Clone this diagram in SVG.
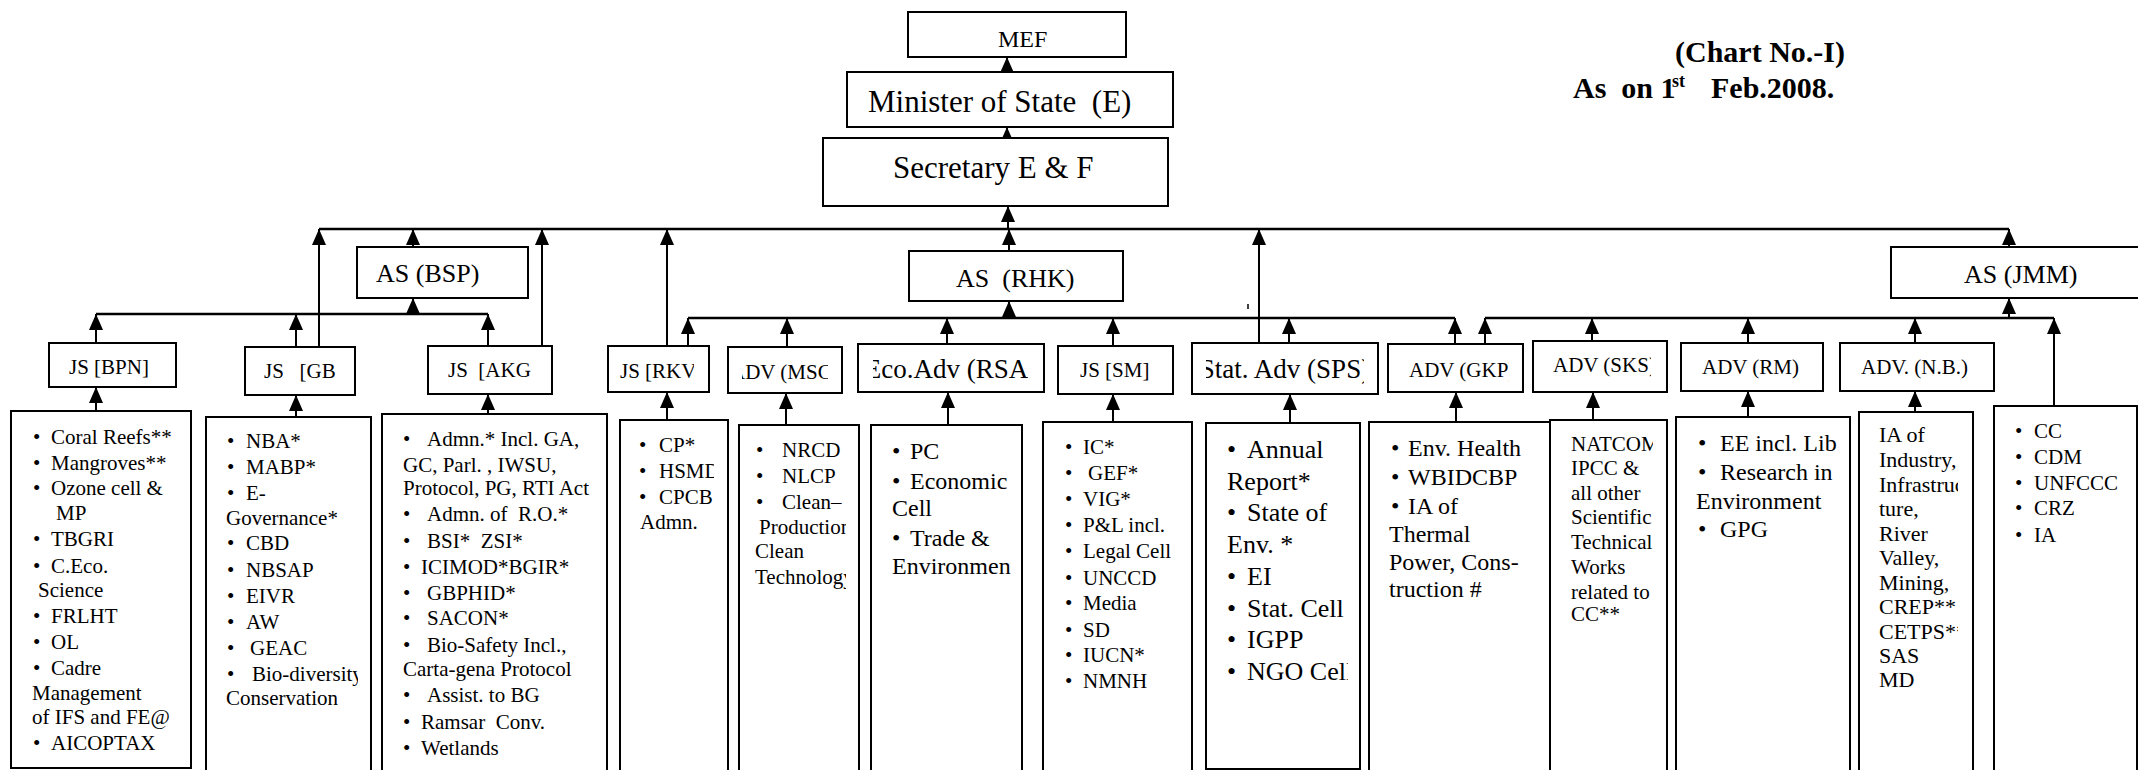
<svg xmlns="http://www.w3.org/2000/svg" width="2138" height="770" viewBox="0 0 2138 770">
<style>
.b{fill:#fff;stroke:#000;stroke-width:2}
.t{font-family:"Liberation Serif","Times New Roman",serif;fill:#000}
.hb{font-weight:bold;font-size:30px}
.f21{font-size:21px}.f22{font-size:22px}.f24{font-size:24px}.f26{font-size:26px}.f27{font-size:27px}.f31{font-size:31px}
.h{stroke:#000;stroke-width:2.5;fill:none}
.a{stroke:#000;stroke-width:2;fill:none;marker-end:url(#ah)}
</style>
<defs>
<marker id="ah" markerUnits="userSpaceOnUse" markerWidth="16" markerHeight="14" viewBox="0 0 16 14" refX="16" refY="7" orient="auto"><path d="M0,0L16,7L0,14z" fill="#000"/></marker>
<clipPath id="cRKVl"><rect x="600" y="340" width="94" height="60"/></clipPath>
<clipPath id="cMSCl"><rect x="742" y="340" width="86" height="60"/></clipPath>
<clipPath id="cRSAl"><rect x="873" y="340" width="155" height="60"/></clipPath>
<clipPath id="cSPSl"><rect x="1206" y="340" width="158" height="60"/></clipPath>
<clipPath id="cGKPl"><rect x="1395" y="340" width="114" height="60"/></clipPath>
<clipPath id="cSKSl"><rect x="1540" y="335" width="111" height="60"/></clipPath>
<clipPath id="cGB"><rect x="206" y="417" width="152" height="360"/></clipPath>
<clipPath id="cRKV"><rect x="620" y="420" width="94" height="360"/></clipPath>
<clipPath id="cMSC"><rect x="739" y="425" width="107" height="360"/></clipPath>
<clipPath id="cRSA"><rect x="871" y="425" width="140" height="360"/></clipPath>
<clipPath id="cSPS"><rect x="1206" y="423" width="142" height="360"/></clipPath>
<clipPath id="cSKS"><rect x="1550" y="420" width="103" height="360"/></clipPath>
<clipPath id="cNB"><rect x="1859" y="412" width="99" height="360"/></clipPath>
</defs>
<rect width="2138" height="770" fill="#fff"/>

<g id="title">
<text class="t hb" x="1845" y="62" text-anchor="end">(Chart No.-I)</text>
<text class="t hb" y="98"><tspan x="1573">As&#160; on 1</tspan><tspan x="1672" y="87" font-size="18">st</tspan><tspan x="1711" y="98">Feb.2008.</tspan></text>
</g>

<g id="connectors">
<path class="h" d="M319,229H2009M96,314H488M688,318H1455M1485,318H2054"/>
<path class="a" d="M1007,72V57"/>
<path class="a" d="M1007,138V127"/>
<path class="a" d="M1008,229V206"/>
<path class="a" d="M1009,251V229"/>
<path class="a" d="M319,347V229"/>
<path class="a" d="M413,247V229"/>
<path class="a" d="M542,346V229"/>
<path class="a" d="M667,346V229"/>
<path class="a" d="M1259,343V229"/>
<path class="a" d="M2009,247V229"/>
<path class="a" d="M413,314V298"/>
<path class="a" d="M96,343V314"/>
<path class="a" d="M296,347V314"/>
<path class="a" d="M488,346V314"/>
<path class="a" d="M1009,318V301"/>
<path class="a" d="M688,346V318"/>
<path class="a" d="M787,347V318"/>
<path class="a" d="M947,344V318"/>
<path class="a" d="M1113,346V318"/>
<path class="a" d="M1289,343V318"/>
<path class="a" d="M1455,344V318"/>
<path class="a" d="M2009,318V298"/>
<path class="a" d="M1485,344V318"/>
<path class="a" d="M1592,341V318"/>
<path class="a" d="M1748,343V318"/>
<path class="a" d="M1915,343V318"/>
<path class="a" d="M2054,406V318"/>
<path class="a" d="M96,411V387"/>
<path class="a" d="M296,417V395"/>
<path class="a" d="M488,414V394"/>
<path class="a" d="M667,420V392"/>
<path class="a" d="M786,425V393"/>
<path class="a" d="M948,425V392"/>
<path class="a" d="M1113,422V394"/>
<path class="a" d="M1290,423V394"/>
<path class="a" d="M1456,422V392"/>
<path class="a" d="M1593,420V392"/>
<path class="a" d="M1748,417V391"/>
<path class="a" d="M1915,412V391"/>
<path d="M1248,304V309" stroke="#000" stroke-width="1.5"/>
</g>

<g id="n-mef"><rect class="b" x="908" y="12" width="218" height="45"/><text class="t f24" x="998" y="47">MEF</text></g>
<g id="n-minister"><rect class="b" x="847" y="72" width="326" height="55"/><text class="t f31" x="868" y="112">Minister of State&#160; (E)</text></g>
<g id="n-secretary"><rect class="b" x="823" y="138" width="345" height="68"/><text class="t f31" x="893" y="178">Secretary E &amp; F</text></g>

<g id="n-as-bsp"><rect class="b" x="357" y="247" width="171" height="51"/><text class="t f26" x="376" y="282">AS (BSP)</text></g>
<g id="n-as-rhk"><rect class="b" x="909" y="251" width="214" height="50"/><text class="t f26" x="956" y="287">AS&#160; (RHK)</text></g>
<g id="n-as-jmm"><rect class="b" x="1891" y="247" width="260" height="51"/><text class="t f26" x="1964" y="283">AS (JMM)</text></g>

<g id="n-js-bpn"><rect class="b" x="49" y="343" width="127" height="44"/><text class="t f21" x="69" y="374">JS [BPN]</text></g>
<g id="n-js-gb"><rect class="b" x="245" y="347" width="110" height="48"/><text class="t f21" x="264" y="378">JS&#160;&#160; [GB</text></g>
<g id="n-js-akg"><rect class="b" x="428" y="346" width="124" height="48"/><text class="t f21" x="448" y="377">JS&#160; [AKG</text></g>
<g id="n-js-rkv"><rect class="b" x="608" y="346" width="101" height="46"/><text class="t f21" x="620" y="378" clip-path="url(#cRKVl)">JS [RKV</text></g>
<g id="n-adv-msc"><rect class="b" x="728" y="347" width="114" height="46"/><text class="t f21" x="730" y="379" clip-path="url(#cMSCl)">ADV (MSC)</text></g>
<g id="n-eco-rsa"><rect class="b" x="858" y="344" width="186" height="48"/><text class="t f27" x="951" y="378" text-anchor="middle" clip-path="url(#cRSAl)">Eco.Adv (RSA)</text></g>
<g id="n-js-sm"><rect class="b" x="1058" y="346" width="115" height="48"/><text class="t f21" x="1080" y="377">JS [SM]</text></g>
<g id="n-stat-sps"><rect class="b" x="1192" y="343" width="186" height="51"/><text class="t f27" x="1285" y="378" text-anchor="middle" clip-path="url(#cSPSl)">Stat. Adv (SPS)</text></g>
<g id="n-adv-gkp"><rect class="b" x="1388" y="344" width="135" height="48"/><text class="t f21" x="1409" y="377" clip-path="url(#cGKPl)">ADV (GKP)</text></g>
<g id="n-adv-sks"><rect class="b" x="1533" y="341" width="134" height="51"/><text class="t f21" x="1553" y="372" clip-path="url(#cSKSl)">ADV (SKS)</text></g>
<g id="n-adv-rm"><rect class="b" x="1681" y="343" width="142" height="48"/><text class="t f21" x="1702" y="374">ADV (RM)</text></g>
<g id="n-adv-nb"><rect class="b" x="1840" y="343" width="154" height="48"/><text class="t f21" x="1861" y="374">ADV. (N.B.)</text></g>

<g id="c-bpn"><rect class="b" x="11" y="411" width="180" height="357"/>
<text class="t f21" y="444"><tspan x="33">•</tspan><tspan x="51">Coral Reefs**</tspan></text>
<text class="t f21" y="470"><tspan x="33">•</tspan><tspan x="51">Mangroves**</tspan></text>
<text class="t f21" y="495"><tspan x="33">•</tspan><tspan x="51">Ozone cell &amp;</tspan></text>
<text class="t f21" x="56" y="520">MP</text>
<text class="t f21" y="546"><tspan x="33">•</tspan><tspan x="51">TBGRI</tspan></text>
<text class="t f21" y="573"><tspan x="33">•</tspan><tspan x="51">C.Eco.</tspan></text>
<text class="t f21" x="38" y="597">Science</text>
<text class="t f21" y="623"><tspan x="33">•</tspan><tspan x="51">FRLHT</tspan></text>
<text class="t f21" y="649"><tspan x="33">•</tspan><tspan x="51">OL</tspan></text>
<text class="t f21" y="675"><tspan x="33">•</tspan><tspan x="51">Cadre</tspan></text>
<text class="t f21" x="32" y="700">Management</text>
<text class="t f21" x="32" y="724">of IFS and FE@</text>
<text class="t f21" y="750"><tspan x="33">•</tspan><tspan x="51">AICOPTAX</tspan></text>
</g>

<g id="c-gb"><rect class="b" x="206" y="417" width="165" height="370"/>
<text class="t f21" y="448"><tspan x="227">•</tspan><tspan x="246">NBA*</tspan></text>
<text class="t f21" y="474"><tspan x="227">•</tspan><tspan x="246">MABP*</tspan></text>
<text class="t f21" y="500"><tspan x="227">•</tspan><tspan x="246">E-</tspan></text>
<text class="t f21" x="226" y="525">Governance*</text>
<text class="t f21" y="550"><tspan x="227">•</tspan><tspan x="246">CBD</tspan></text>
<text class="t f21" y="577"><tspan x="227">•</tspan><tspan x="246">NBSAP</tspan></text>
<text class="t f21" y="603"><tspan x="227">•</tspan><tspan x="246">EIVR</tspan></text>
<text class="t f21" y="629"><tspan x="227">•</tspan><tspan x="246">AW</tspan></text>
<text class="t f21" y="655"><tspan x="227">•</tspan><tspan x="250">GEAC</tspan></text>
<text class="t f21" y="681" clip-path="url(#cGB)"><tspan x="227">•</tspan><tspan x="252">Bio-diversity</tspan></text>
<text class="t f21" x="226" y="705">Conservation</text>
</g>

<g id="c-akg"><rect class="b" x="382" y="414" width="225" height="370"/>
<text class="t f21" y="446"><tspan x="403">•</tspan><tspan x="427">Admn.* Incl. GA,</tspan></text>
<text class="t f21" x="403" y="472">GC, Parl. , IWSU,</text>
<text class="t f21" x="403" y="495">Protocol, PG, RTI Act</text>
<text class="t f21" y="521"><tspan x="403">•</tspan><tspan x="427">Admn. of&#160; R.O.*</tspan></text>
<text class="t f21" y="548"><tspan x="403">•</tspan><tspan x="427">BSI*&#160; ZSI*</tspan></text>
<text class="t f21" y="574"><tspan x="403">•</tspan><tspan x="421">ICIMOD*BGIR*</tspan></text>
<text class="t f21" y="600"><tspan x="403">•</tspan><tspan x="427">GBPHID*</tspan></text>
<text class="t f21" y="625"><tspan x="403">•</tspan><tspan x="427">SACON*</tspan></text>
<text class="t f21" y="652"><tspan x="403">•</tspan><tspan x="427">Bio-Safety Incl.,</tspan></text>
<text class="t f21" x="403" y="676">Carta-gena Protocol</text>
<text class="t f21" y="702"><tspan x="403">•</tspan><tspan x="427">Assist. to BG</tspan></text>
<text class="t f21" y="729"><tspan x="403">•</tspan><tspan x="421">Ramsar&#160; Conv.</tspan></text>
<text class="t f21" y="755"><tspan x="403">•</tspan><tspan x="421">Wetlands</tspan></text>
</g>

<g id="c-rkv"><rect class="b" x="620" y="420" width="108" height="370"/>
<text class="t f21" y="452"><tspan x="639">•</tspan><tspan x="659">CP*</tspan></text>
<text class="t f21" y="478" clip-path="url(#cRKV)"><tspan x="639">•</tspan><tspan x="659">HSMD</tspan></text>
<text class="t f21" y="504"><tspan x="639">•</tspan><tspan x="659">CPCB</tspan></text>
<text class="t f21" x="640" y="529">Admn.</text>
</g>

<g id="c-msc"><rect class="b" x="739" y="425" width="120" height="370"/>
<text class="t f21" y="457"><tspan x="756">•</tspan><tspan x="782">NRCD</tspan></text>
<text class="t f21" y="483"><tspan x="756">•</tspan><tspan x="782">NLCP</tspan></text>
<text class="t f21" y="509"><tspan x="756">•</tspan><tspan x="782">Clean–</tspan></text>
<text class="t f21" x="759" y="534" clip-path="url(#cMSC)">Production</text>
<text class="t f21" x="755" y="558">Clean</text>
<text class="t f21" x="755" y="584" clip-path="url(#cMSC)">Technology</text>
</g>

<g id="c-rsa"><rect class="b" x="871" y="425" width="151" height="370"/>
<text class="t f24" y="459"><tspan x="892">•</tspan><tspan x="910">PC</tspan></text>
<text class="t f24" y="489"><tspan x="892">•</tspan><tspan x="910">Economic</tspan></text>
<text class="t f24" x="892" y="516">Cell</text>
<text class="t f24" y="546"><tspan x="892">•</tspan><tspan x="910">Trade &amp;</tspan></text>
<text class="t f24" x="892" y="574" clip-path="url(#cRSA)">Environment</text>
</g>

<g id="c-sm"><rect class="b" x="1043" y="422" width="149" height="370"/>
<text class="t f21" y="454"><tspan x="1065">•</tspan><tspan x="1083">IC*</tspan></text>
<text class="t f21" y="480"><tspan x="1065">•</tspan><tspan x="1088">GEF*</tspan></text>
<text class="t f21" y="506"><tspan x="1065">•</tspan><tspan x="1083">VIG*</tspan></text>
<text class="t f21" y="532"><tspan x="1065">•</tspan><tspan x="1083">P&amp;L incl.</tspan></text>
<text class="t f21" y="558"><tspan x="1065">•</tspan><tspan x="1083">Legal Cell</tspan></text>
<text class="t f21" y="585"><tspan x="1065">•</tspan><tspan x="1083">UNCCD</tspan></text>
<text class="t f21" y="610"><tspan x="1065">•</tspan><tspan x="1083">Media</tspan></text>
<text class="t f21" y="637"><tspan x="1065">•</tspan><tspan x="1083">SD</tspan></text>
<text class="t f21" y="662"><tspan x="1065">•</tspan><tspan x="1083">IUCN*</tspan></text>
<text class="t f21" y="688"><tspan x="1065">•</tspan><tspan x="1083">NMNH</tspan></text>
</g>

<g id="c-sps"><rect class="b" x="1206" y="423" width="154" height="346"/>
<text class="t f26" y="458"><tspan x="1227">•</tspan><tspan x="1247">Annual</tspan></text>
<text class="t f26" x="1227" y="490">Report*</text>
<text class="t f26" y="521"><tspan x="1227">•</tspan><tspan x="1247">State of</tspan></text>
<text class="t f26" x="1227" y="553">Env. *</text>
<text class="t f26" y="585"><tspan x="1227">•</tspan><tspan x="1247">EI</tspan></text>
<text class="t f26" y="617"><tspan x="1227">•</tspan><tspan x="1247">Stat. Cell</tspan></text>
<text class="t f26" y="648"><tspan x="1227">•</tspan><tspan x="1247">IGPP</tspan></text>
<text class="t f26" y="680" clip-path="url(#cSPS)"><tspan x="1227">•</tspan><tspan x="1247">NGO Cell</tspan></text>
</g>

<g id="c-gkp"><rect class="b" x="1369" y="422" width="181" height="370"/>
<text class="t f24" y="456"><tspan x="1391">•</tspan><tspan x="1408">Env. Health</tspan></text>
<text class="t f24" y="485"><tspan x="1391">•</tspan><tspan x="1408">WBIDCBP</tspan></text>
<text class="t f24" y="514"><tspan x="1391">•</tspan><tspan x="1408">IA of</tspan></text>
<text class="t f24" x="1389" y="542">Thermal</text>
<text class="t f24" x="1389" y="570">Power, Cons-</text>
<text class="t f24" x="1389" y="597">truction #</text>
</g>

<g id="c-sks"><rect class="b" x="1550" y="420" width="117" height="370"/>
<text class="t f21" x="1571" y="451" clip-path="url(#cSKS)">NATCOM</text>
<text class="t f21" x="1571" y="475">IPCC &amp;</text>
<text class="t f21" x="1571" y="500">all other</text>
<text class="t f21" x="1571" y="524" clip-path="url(#cSKS)">Scientific</text>
<text class="t f21" x="1571" y="549">Technical</text>
<text class="t f21" x="1571" y="574">Works</text>
<text class="t f21" x="1571" y="599">related to</text>
<text class="t f21" x="1571" y="621">CC**</text>
</g>

<g id="c-rm"><rect class="b" x="1676" y="417" width="174" height="370"/>
<text class="t f24" y="451"><tspan x="1698">•</tspan><tspan x="1720">EE incl. Lib</tspan></text>
<text class="t f24" y="480"><tspan x="1698">•</tspan><tspan x="1720">Research in</tspan></text>
<text class="t f24" x="1696" y="509">Environment</text>
<text class="t f24" y="537"><tspan x="1698">•</tspan><tspan x="1720">GPG</tspan></text>
</g>

<g id="c-nb"><rect class="b" x="1859" y="412" width="114" height="370"/>
<text class="t f22" x="1879" y="442">IA of</text>
<text class="t f22" x="1879" y="467">Industry,</text>
<text class="t f22" x="1879" y="492" clip-path="url(#cNB)">Infrastruc</text>
<text class="t f22" x="1879" y="516">ture,</text>
<text class="t f22" x="1879" y="541">River</text>
<text class="t f22" x="1879" y="565">Valley,</text>
<text class="t f22" x="1879" y="590">Mining,</text>
<text class="t f22" x="1879" y="614">CREP**</text>
<text class="t f22" x="1879" y="639" clip-path="url(#cNB)">CETPS**</text>
<text class="t f22" x="1879" y="663">SAS</text>
<text class="t f22" x="1879" y="687">MD</text>
</g>

<g id="c-jmm"><rect class="b" x="1994" y="406" width="143" height="380"/>
<text class="t f21" y="438"><tspan x="2015">•</tspan><tspan x="2034">CC</tspan></text>
<text class="t f21" y="464"><tspan x="2015">•</tspan><tspan x="2034">CDM</tspan></text>
<text class="t f21" y="490"><tspan x="2015">•</tspan><tspan x="2034">UNFCCC</tspan></text>
<text class="t f21" y="515"><tspan x="2015">•</tspan><tspan x="2034">CRZ</tspan></text>
<text class="t f21" y="542"><tspan x="2015">•</tspan><tspan x="2034">IA</tspan></text>
</g>
</svg>
